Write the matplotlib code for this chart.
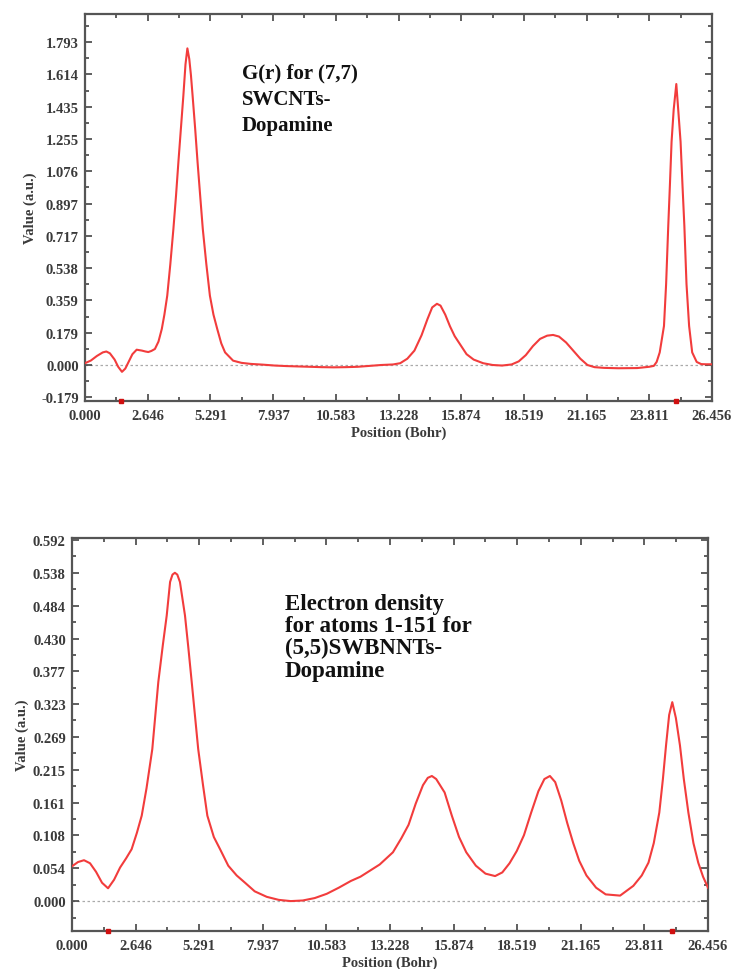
import matplotlib
matplotlib.use('Agg')
import matplotlib.pyplot as plt

# G(r) for (7,7) SWCNTs-Dopamine
gr_x = [0.00, 0.25, 0.50, 0.75, 0.90, 1.05, 1.25, 1.40, 1.56, 1.70, 1.85, 2.00, 2.18, 2.40,
        2.55, 2.67, 2.80, 2.95, 3.10, 3.24, 3.35, 3.47, 3.60, 3.73, 3.84, 3.94, 4.05, 4.15,
        4.24, 4.32, 4.40, 4.47, 4.54, 4.65, 4.75, 4.86, 4.97, 5.12, 5.27, 5.42, 5.58, 5.75,
        5.91, 6.25, 6.60, 7.00, 7.50, 8.00, 8.50, 9.00, 9.50, 10.00, 10.50, 11.00, 11.50,
        12.00, 12.50, 13.00, 13.30, 13.60, 13.90, 14.20, 14.45, 14.65, 14.85, 15.00, 15.20,
        15.40, 15.60, 15.85, 16.10, 16.40, 16.80, 17.20, 17.60, 18.00, 18.30, 18.60, 18.90,
        19.20, 19.50, 19.75, 20.00, 20.30, 20.60, 20.90, 21.20, 21.50, 21.90, 22.50, 23.30,
        23.80, 24.00, 24.12, 24.25, 24.43, 24.52, 24.61, 24.68, 24.75, 24.84, 24.95, 25.03,
        25.13, 25.21, 25.29, 25.38, 25.49, 25.62, 25.81, 26.00, 26.20, 26.456]
gr_y = [0.010, 0.025, 0.050, 0.070, 0.075, 0.065, 0.030, -0.010, -0.038, -0.020, 0.020, 0.060,
        0.085, 0.080, 0.075, 0.072, 0.078, 0.089, 0.130, 0.200, 0.280, 0.385, 0.560, 0.756,
        0.940, 1.126, 1.320, 1.496, 1.670, 1.759, 1.700, 1.610, 1.496, 1.310, 1.126, 0.940,
        0.756, 0.560, 0.385, 0.280, 0.200, 0.120, 0.070, 0.024, 0.012, 0.006, 0.002, -0.003,
        -0.006, -0.008, -0.010, -0.012, -0.013, -0.012, -0.010, -0.005, 0.000, 0.003, 0.010,
        0.035, 0.080, 0.165, 0.255, 0.320, 0.340, 0.330, 0.280, 0.215, 0.160, 0.110, 0.060,
        0.030, 0.010, 0.000, -0.003, 0.003, 0.020, 0.055, 0.105, 0.145, 0.163, 0.167, 0.158,
        0.125, 0.080, 0.035, 0.000, -0.012, -0.016, -0.018, -0.017, -0.010, -0.005, 0.017,
        0.070, 0.217, 0.450, 0.772, 1.000, 1.240, 1.420, 1.561, 1.420, 1.240, 1.000, 0.772,
        0.450, 0.217, 0.070, 0.017, 0.005, 0.004, 0.004]

# Electron density for atoms 1-151 for (5,5)SWBNNTs-Dopamine
ed_x = [0.00, 0.25, 0.50, 0.75, 1.00, 1.25, 1.50, 1.75, 2.00, 2.25, 2.48, 2.70, 2.90, 3.10,
        3.34, 3.59, 3.78, 3.94, 4.08, 4.18, 4.28, 4.38, 4.49, 4.70, 4.84, 4.98, 5.25, 5.45,
        5.63, 5.90, 6.16, 6.50, 6.85, 7.20, 7.60, 8.10, 8.60, 9.10, 9.60, 10.10, 10.60,
        11.10, 11.60, 12.00, 12.40, 12.80, 13.35, 13.70, 14.00, 14.30, 14.60, 14.80, 14.97,
        15.15, 15.50, 15.80, 16.10, 16.40, 16.80, 17.20, 17.60, 17.90, 18.20, 18.50, 18.80,
        19.10, 19.40, 19.65, 19.88, 20.10, 20.35, 20.60, 20.85, 21.10, 21.40, 21.80, 22.20,
        22.80, 23.35, 23.70, 23.98, 24.20, 24.43, 24.58, 24.71, 24.84, 24.97, 25.12, 25.29,
        25.45, 25.64, 25.85, 26.05, 26.25, 26.456]
ed_y = [0.057, 0.064, 0.067, 0.062, 0.048, 0.030, 0.021, 0.035, 0.055, 0.070, 0.085, 0.112,
        0.140, 0.185, 0.249, 0.359, 0.420, 0.468, 0.523, 0.535, 0.538, 0.535, 0.523, 0.468,
        0.415, 0.359, 0.249, 0.190, 0.140, 0.105, 0.085, 0.058, 0.042, 0.030, 0.016, 0.007,
        0.002, 0.000, 0.001, 0.005, 0.012, 0.022, 0.033, 0.040, 0.050, 0.060, 0.080, 0.103,
        0.125, 0.160, 0.190, 0.202, 0.205, 0.200, 0.178, 0.140, 0.105, 0.080, 0.058, 0.045,
        0.041, 0.047, 0.062, 0.082, 0.108, 0.145, 0.180, 0.200, 0.205, 0.195, 0.165, 0.128,
        0.095, 0.066, 0.042, 0.022, 0.011, 0.009, 0.025, 0.042, 0.063, 0.095, 0.145, 0.200,
        0.255, 0.305, 0.326, 0.300, 0.255, 0.200, 0.145, 0.095, 0.063, 0.040, 0.022]

x_ticks = ['0.000', '2.646', '5.291', '7.937', '10.583', '13.228', '15.874', '18.519',
           '21.165', '23.811', '26.456']
gr_ticks = ['-0.179', '0.000', '0.179', '0.359', '0.538', '0.717', '0.897', '1.076',
            '1.255', '1.435', '1.614', '1.793']
ed_ticks = ['0.000', '0.054', '0.108', '0.161', '0.215', '0.269', '0.323', '0.377',
            '0.430', '0.484', '0.538', '0.592']
marker_x = [1.5, 24.94]

serif = 'Liberation Serif'
red = '#f23c3c'
fs = 10.5


def style_axes(ax, yt, ylim):
    xv = [float(t) for t in x_ticks]
    yv = [float(t) for t in yt]
    ax.set_xlim(xv[0], xv[-1])
    ax.set_ylim(*ylim)
    ax.set_xticks(xv)
    ax.set_xticklabels(x_ticks)
    ax.set_yticks(yv)
    ax.set_yticklabels(yt)
    dx = xv[1] - xv[0]
    dy = yv[1] - yv[0]
    ax.set_xticks([v + dx / 2 for v in xv[:-1]], minor=True)
    ax.set_yticks([v + dy / 2 for v in yv + [yv[0] - dy] if ylim[0] < v + dy / 2 < ylim[1]],
                  minor=True)
    ax.tick_params(which='both', direction='in', top=True, right=True, color='#444444',
                   width=1.2, labelsize=fs)
    ax.tick_params(axis='x', pad=5.5)
    ax.tick_params(axis='y', pad=4.5)
    ax.tick_params(which='major', length=5)
    ax.tick_params(which='minor', length=3)
    for lab in ax.get_xticklabels() + ax.get_yticklabels():
        lab.set_family(serif)
        lab.set_fontweight('bold')
        lab.set_color('#3a3a3a')
    for s in ax.spines.values():
        s.set_color('#555555')
        s.set_linewidth(1.6)
    ax.axhline(0, color='#aaaaaa', lw=0.9, ls=(0, (2, 2)), zorder=1)
    ax.plot(marker_x, [ylim[0]] * len(marker_x), 's', color='#d01010', ms=3,
            clip_on=False, zorder=5)
    ax.set_xlabel('Position (Bohr)', family=serif, fontweight='bold', fontsize=fs,
                  color='#3a3a3a', labelpad=3)
    ax.set_ylabel('Value (a.u.)', family=serif, fontweight='bold', fontsize=fs,
                  color='#3a3a3a', labelpad=3)


fig = plt.figure(figsize=(7.35, 9.7), dpi=100)
W, H = 735, 970

ax1 = fig.add_axes([85 / W, 1 - 402 / H, (712 - 85) / W, (402 - 15) / H])
ax1.plot(gr_x, gr_y, color=red, lw=1.5, zorder=3)
style_axes(ax1, gr_ticks, (-0.2, 1.95))
ax1.text(242 / W, 1 - 63 / H, 'G(r) for (7,7)\nSWCNTs-\nDopamine', transform=fig.transFigure,
         family=serif, weight='bold', fontsize=15, va='top', ha='left',
         linespacing=1.45, color='#111111')

ax2 = fig.add_axes([72 / W, 1 - 932 / H, (708 - 72) / W, (932 - 539) / H])
ax2.plot(ed_x, ed_y, color=red, lw=1.5, zorder=3)
style_axes(ax2, ed_ticks, (-0.049, 0.595))
ax2.text(285 / W, 1 - 594 / H, 'Electron density\nfor atoms 1-151 for\n(5,5)SWBNNTs-\nDopamine',
         transform=fig.transFigure, family=serif, weight='bold', fontsize=16.5,
         va='top', ha='left', linespacing=1.07, color='#111111')

fig.savefig('out.png', dpi=100)
